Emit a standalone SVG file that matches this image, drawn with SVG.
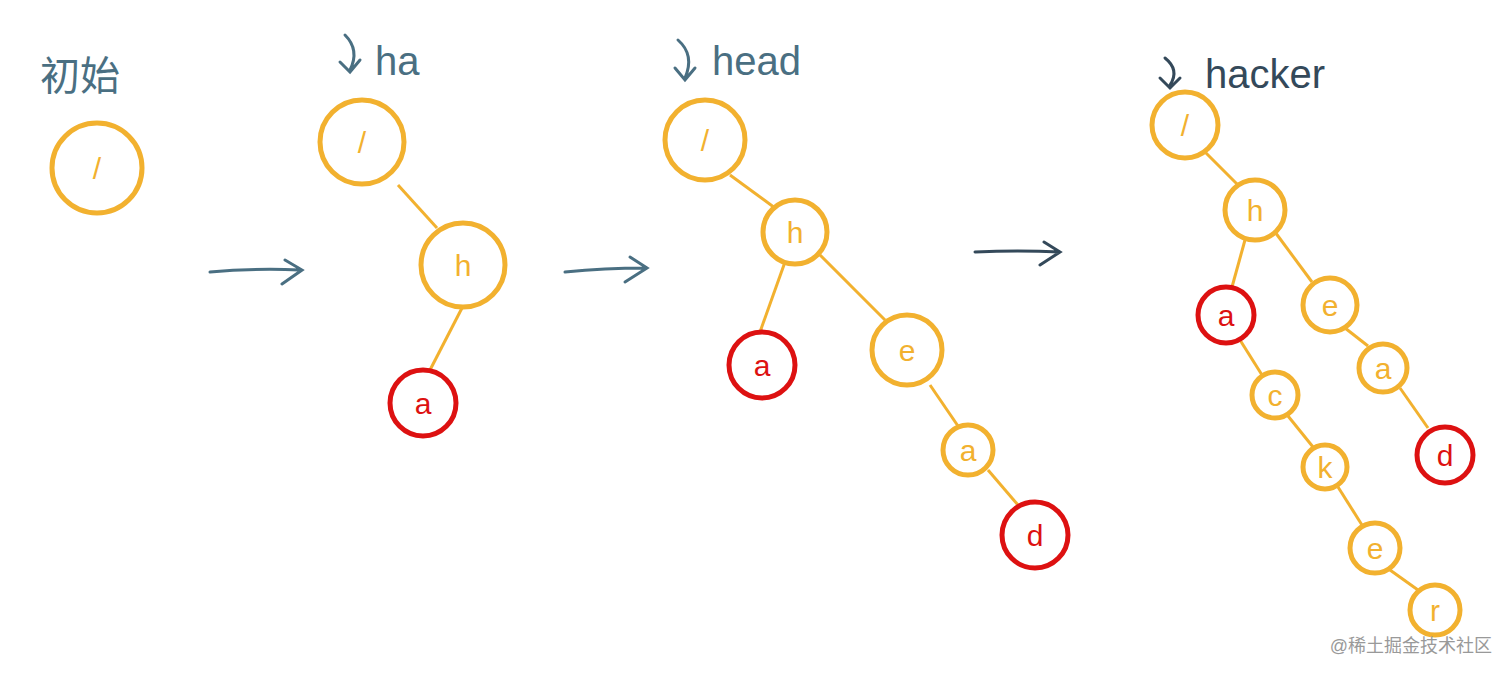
<svg xmlns="http://www.w3.org/2000/svg" width="1512" height="676" viewBox="0 0 1512 676">
<style>
.n{fill:none;stroke:#F2B12F;stroke-width:5}
.r{fill:none;stroke:#DD1111;stroke-width:5}
.e{stroke:#F2B12F;stroke-width:3;fill:none}
.t{font-family:"Liberation Sans",sans-serif;font-size:30px;text-anchor:middle;dominant-baseline:central}
.to{fill:#F2B12F}.tr{fill:#DD1111}
.lab{font-family:"Liberation Sans","Noto Sans CJK SC",sans-serif;font-size:40px;fill:#4A6F82}
.ar{stroke:#4A6F82;stroke-width:3;fill:none;stroke-linecap:round}
</style>
<rect width="1512" height="676" fill="#fff"/>
<g id="connectors">
<line class="e" x1="398" y1="185" x2="437" y2="228"/>
<line class="e" x1="462" y1="308" x2="430" y2="370"/>
<line class="e" x1="730" y1="175" x2="775" y2="208"/>
<line class="e" x1="785" y1="262" x2="760" y2="332"/>
<line class="e" x1="820" y1="255" x2="885" y2="320"/>
<line class="e" x1="930" y1="385" x2="958" y2="426"/>
<line class="e" x1="988" y1="470" x2="1018" y2="505"/>
<line class="e" x1="1205" y1="152" x2="1238" y2="185"/>
<line class="e" x1="1245" y1="240" x2="1232" y2="287"/>
<line class="e" x1="1275" y1="232" x2="1312" y2="282"/>
<line class="e" x1="1240" y1="340" x2="1262" y2="375"/>
<line class="e" x1="1345" y1="328" x2="1368" y2="346"/>
<line class="e" x1="1288" y1="416" x2="1313" y2="447"/>
<line class="e" x1="1400" y1="388" x2="1428" y2="428"/>
<line class="e" x1="1338" y1="487" x2="1362" y2="525"/>
<line class="e" x1="1390" y1="570" x2="1418" y2="590"/>
<path class="ar" d="M210 272 Q255 268 300 270 M285 260 L302 270 L282 284"/>
<path class="ar" d="M565 272 Q605 268 645 268 M630 257 L647 268 L625 282"/>
<path class="ar" d="M975 252 Q1018 250 1060 252 M1044 242 L1060 252 L1040 265" style="stroke:#34495A"/>
</g>
<g id="labels">
<text class="lab" x="40" y="90">初始</text>
<path class="ar" d="M345 35 Q360 50 350 70 M340 62 L350 72 L360 60"/>
<text class="lab" x="375" y="75">ha</text>
<path class="ar" d="M678 40 Q695 55 685 78 M675 68 L685 80 L695 68"/>
<text class="lab" x="712" y="75">head</text>
<path class="ar" d="M1165 58 Q1180 70 1170 85 M1160 78 L1170 88 L1180 78" style="stroke:#34495A"/>
<text class="lab" x="1205" y="88" style="fill:#34495A">hacker</text>
</g>
<g id="n0"><circle class="n" cx="97" cy="168" r="45"/><text class="t to" x="97" y="168">/</text></g>
<g id="n1"><circle class="n" cx="362" cy="142" r="42"/><text class="t to" x="362" y="142">/</text></g>
<g id="n2"><circle class="n" cx="463" cy="265" r="42"/><text class="t to" x="463" y="265">h</text></g>
<g id="n3"><circle class="r" cx="423" cy="403" r="33"/><text class="t tr" x="423" y="403">a</text></g>
<g id="n4"><circle class="n" cx="705" cy="140" r="40"/><text class="t to" x="705" y="140">/</text></g>
<g id="n5"><circle class="n" cx="795" cy="232" r="32"/><text class="t to" x="795" y="232">h</text></g>
<g id="n6"><circle class="r" cx="762" cy="365" r="33"/><text class="t tr" x="762" y="365">a</text></g>
<g id="n7"><circle class="n" cx="907" cy="350" r="35"/><text class="t to" x="907" y="350">e</text></g>
<g id="n8"><circle class="n" cx="968" cy="450" r="25"/><text class="t to" x="968" y="450">a</text></g>
<g id="n9"><circle class="r" cx="1035" cy="535" r="33"/><text class="t tr" x="1035" y="535">d</text></g>
<g id="n10"><circle class="n" cx="1185" cy="125" r="33"/><text class="t to" x="1185" y="125">/</text></g>
<g id="n11"><circle class="n" cx="1255" cy="210" r="30"/><text class="t to" x="1255" y="210">h</text></g>
<g id="n12"><circle class="r" cx="1226" cy="315" r="28"/><text class="t tr" x="1226" y="315">a</text></g>
<g id="n13"><circle class="n" cx="1330" cy="305" r="27"/><text class="t to" x="1330" y="305">e</text></g>
<g id="n14"><circle class="n" cx="1275" cy="395" r="23"/><text class="t to" x="1275" y="395">c</text></g>
<g id="n15"><circle class="n" cx="1383" cy="368" r="24"/><text class="t to" x="1383" y="368">a</text></g>
<g id="n16"><circle class="n" cx="1325" cy="467" r="22"/><text class="t to" x="1325" y="467">k</text></g>
<g id="n17"><circle class="r" cx="1445" cy="455" r="28"/><text class="t tr" x="1445" y="455">d</text></g>
<g id="n18"><circle class="n" cx="1375" cy="548" r="25"/><text class="t to" x="1375" y="548">e</text></g>
<g id="n19"><circle class="n" cx="1435" cy="610" r="25"/><text class="t to" x="1435" y="610">r</text></g>
<text x="1492" y="652" text-anchor="end" style="font-family:'Liberation Sans','Noto Sans CJK SC',sans-serif;font-size:18px;fill:#999">@稀土掘金技术社区</text>
</svg>
